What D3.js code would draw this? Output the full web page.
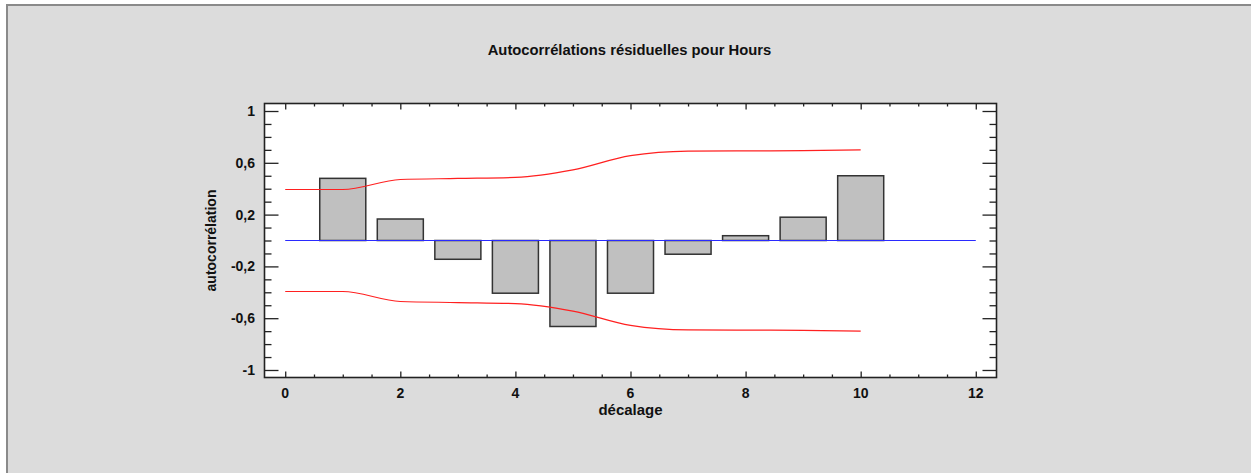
<!DOCTYPE html>
<html>
<head>
<meta charset="utf-8">
<script src="https://cdn.jsdelivr.net/npm/d3@7"></script>
<style>
  html, body { margin: 0; padding: 0; background: #ffffff; }
  svg { display: block; font-family: Arial, "Liberation Sans", sans-serif; }
</style>
</head>
<body>
<svg id="chart" width="1251" height="475"></svg>
<script>
// Residual autocorrelations by lag
const lags = [1, 2, 3, 4, 5, 6, 7, 8, 9, 10];
const acf = [0.48, 0.166, -0.145, -0.407, -0.664, -0.407, -0.106, 0.037, 0.18, 0.50];

// Upper probability limit at each lag (lower limit is its mirror)
const limitLags = [0, 1, 2, 3, 4, 5, 6, 7, 8, 9, 10];
const upperLimit = [0.394, 0.394, 0.471, 0.479, 0.487, 0.545, 0.655, 0.69, 0.692, 0.694, 0.70];

// Tick labels
const xTickValues = [0, 2, 4, 6, 8, 10, 12];
const yTickValues = [1, 0.6, 0.2, -0.2, -0.6, -1];

const title = "Autocorrélations résiduelles pour Hours";
const xLabel = "décalage";
const yLabel = "autocorrélation";

const svg = d3.select("#chart");

// Panel background with border on the left and top edges
svg.append("rect")
  .attr("x", 6).attr("y", 4)
  .attr("width", 1245).attr("height", 469)
  .attr("fill", "#dcdcdc");
svg.append("path")
  .attr("d", "M7,473 V5 H1251")
  .attr("fill", "none")
  .attr("stroke", "#8a8a8a").attr("stroke-width", 2);

const plot = { left: 264.5, top: 103.5, right: 996.5, bottom: 377.5 };

const x = d3.scaleLinear().domain([-0.36, 12.36]).range([plot.left, plot.right]);
const y = d3.scaleLinear().domain([-1.058, 1.058]).range([plot.bottom, plot.top]);

// Plot area
svg.append("rect")
  .attr("x", plot.left).attr("y", plot.top)
  .attr("width", plot.right - plot.left).attr("height", plot.bottom - plot.top)
  .attr("fill", "#ffffff");

// Bars
const barW = x(0.8) - x(0);
svg.append("g").selectAll("rect")
  .data(lags.map((l, i) => ({ lag: l, v: acf[i] })))
  .join("rect")
  .attr("x", d => x(d.lag) - barW / 2)
  .attr("y", d => y(Math.max(0, d.v)))
  .attr("width", barW)
  .attr("height", d => Math.abs(y(d.v) - y(0)))
  .attr("fill", "#c0c0c0")
  .attr("stroke", "#333333")
  .attr("stroke-width", 1.5);

// Zero reference line
svg.append("line")
  .attr("x1", x(0)).attr("x2", x(12))
  .attr("y1", y(0)).attr("y2", y(0))
  .attr("stroke", "#2a2aff").attr("stroke-width", 1.2);

// Probability limits
const limitLine = d3.line()
  .x(d => x(d[0])).y(d => y(d[1]))
  .curve(d3.curveMonotoneX);
const upperPts = limitLags.map((l, i) => [l, upperLimit[i]]);
const lowerPts = limitLags.map((l, i) => [l, -upperLimit[i]]);
[upperPts, lowerPts].forEach(pts => {
  svg.append("path")
    .attr("d", limitLine(pts))
    .attr("fill", "none")
    .attr("stroke", "#ff2020")
    .attr("stroke-width", 1.2);
});

// Axes with inward ticks on all four sides
const axisColor = "#222222";
const xMinor = d3.range(0, 12.01, 0.5);
const yMinor = d3.range(-1, 1.001, 0.1).map(v => Math.round(v * 10) / 10);
const isMajorX = v => Math.abs(v / 2 - Math.round(v / 2)) < 1e-6;
const isMajorY = v => yTickValues.some(t => Math.abs(t - v) < 1e-6);

function styleAxis(g) {
  g.select(".domain").remove();
  g.selectAll(".tick line").attr("stroke", axisColor).attr("stroke-width", 1.3);
}

// Bottom
const xBottom = svg.append("g")
  .attr("transform", `translate(0,${plot.bottom})`)
  .call(d3.axisBottom(x).tickValues(xMinor).tickSize(0).tickFormat(""));
xBottom.selectAll(".tick line").attr("y2", d => isMajorX(d) ? -6 : -3);
styleAxis(xBottom);

// Top
const xTop = svg.append("g")
  .attr("transform", `translate(0,${plot.top})`)
  .call(d3.axisTop(x).tickValues(xMinor).tickSize(0).tickFormat(""));
xTop.selectAll(".tick line").attr("y2", d => isMajorX(d) ? 6 : 3);
styleAxis(xTop);

// Left
const yLeft = svg.append("g")
  .attr("transform", `translate(${plot.left},0)`)
  .call(d3.axisLeft(y).tickValues(yMinor).tickSize(0).tickFormat(""));
yLeft.selectAll(".tick line").attr("x2", d => isMajorY(d) ? 14 : 7);
styleAxis(yLeft);

// Right
const yRight = svg.append("g")
  .attr("transform", `translate(${plot.right},0)`)
  .call(d3.axisRight(y).tickValues(yMinor).tickSize(0).tickFormat(""));
yRight.selectAll(".tick line").attr("x2", d => isMajorY(d) ? -14 : -7);
styleAxis(yRight);

// Frame
svg.append("rect")
  .attr("x", plot.left).attr("y", plot.top)
  .attr("width", plot.right - plot.left).attr("height", plot.bottom - plot.top)
  .attr("fill", "none")
  .attr("stroke", axisColor).attr("stroke-width", 1.6);

// Tick labels
const fmt = v => String(v).replace(".", ",");
svg.append("g").selectAll("text")
  .data(xTickValues)
  .join("text")
  .attr("x", d => x(d)).attr("y", 398)
  .attr("text-anchor", "middle")
  .attr("font-size", 14).attr("font-weight", "bold").attr("fill", "#111")
  .text(d => fmt(d));

svg.append("g").selectAll("text")
  .data(yTickValues)
  .join("text")
  .attr("x", 255).attr("y", d => y(d) + 5)
  .attr("text-anchor", "end")
  .attr("font-size", 14).attr("font-weight", "bold").attr("fill", "#111")
  .text(d => fmt(d));

// Titles
svg.append("text")
  .attr("x", 629.5).attr("y", 54.5)
  .attr("text-anchor", "middle")
  .attr("font-size", 14.8).attr("font-weight", "bold").attr("fill", "#111")
  .text(title);

svg.append("text")
  .attr("x", (plot.left + plot.right) / 2).attr("y", 415)
  .attr("text-anchor", "middle")
  .attr("font-size", 15).attr("font-weight", "bold").attr("fill", "#111")
  .text(xLabel);

svg.append("text")
  .attr("transform", `translate(216,${y(0)}) rotate(-90)`)
  .attr("text-anchor", "middle")
  .attr("font-size", 14).attr("font-weight", "bold").attr("fill", "#111")
  .text(yLabel);
</script>
</body>
</html>
